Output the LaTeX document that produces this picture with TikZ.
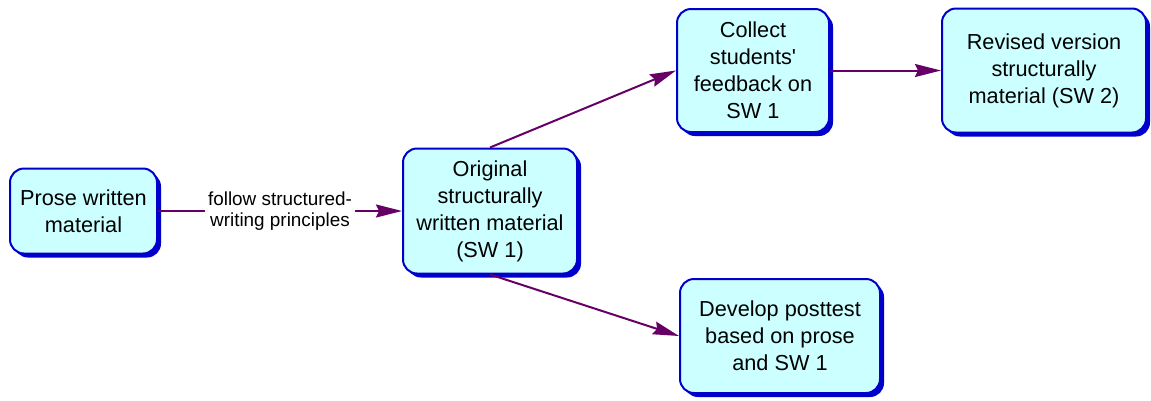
\documentclass[tikz,border=0pt]{standalone}
\usepackage{fontspec}
\setmainfont{Liberation Sans}
\usetikzlibrary{arrows.meta,shadows}
\definecolor{boxblue}{RGB}{0,0,204}
\definecolor{boxfill}{RGB}{204,255,255}
\definecolor{linkpurple}{RGB}{102,0,102}

\begin{document}
\begin{tikzpicture}[x = 1pt, y = -1pt,
	task/.style = {draw=boxblue, fill=boxfill, line width=2pt, rounded corners=14pt, align=center, inner sep=0pt, font=\fontsize{21.7}{27}\selectfont, drop shadow={shadow xshift=4pt, shadow yshift=-4pt, fill=boxblue, opacity=1}},
	link/.style = {draw=linkpurple, line width=2pt, -{Stealth[length=26pt, width=13pt, inset=3pt]}}]
	\useasboundingbox (0,0) rectangle (1151,400);

	\node[task, minimum width=147pt, minimum height=85pt] (prose) at (83.5,211) {Prose written\\material};
	\node[task, minimum width=174pt, minimum height=125pt] (orig) at (490,211) {Original\\structurally\\written material\\(SW 1)};
	\node[task, minimum width=152pt, minimum height=123pt] (collect) at (753,70.5) {Collect\\students\textquotesingle\\feedback on\\SW 1};
	\node[task, minimum width=204pt, minimum height=124pt] (revised) at (1044,70.5) {Revised version\\structurally\\material (SW 2)};
	\node[task, minimum width=200pt, minimum height=114pt] (develop) at (780,336) {Develop posttest\\based on prose\\and SW 1};

	\draw[link] (prose) -- node[fill=white, align=center, inner sep=3pt, font=\fontsize{18.9}{21}\selectfont](lab){follow structured-\\writing principles} (orig);
	\draw[link] (orig.north) -- (collect.west);
	\draw[link] (collect) -- (revised);
	\draw[link] (orig.south) -- (develop.west);
\end{tikzpicture}
\end{document}
